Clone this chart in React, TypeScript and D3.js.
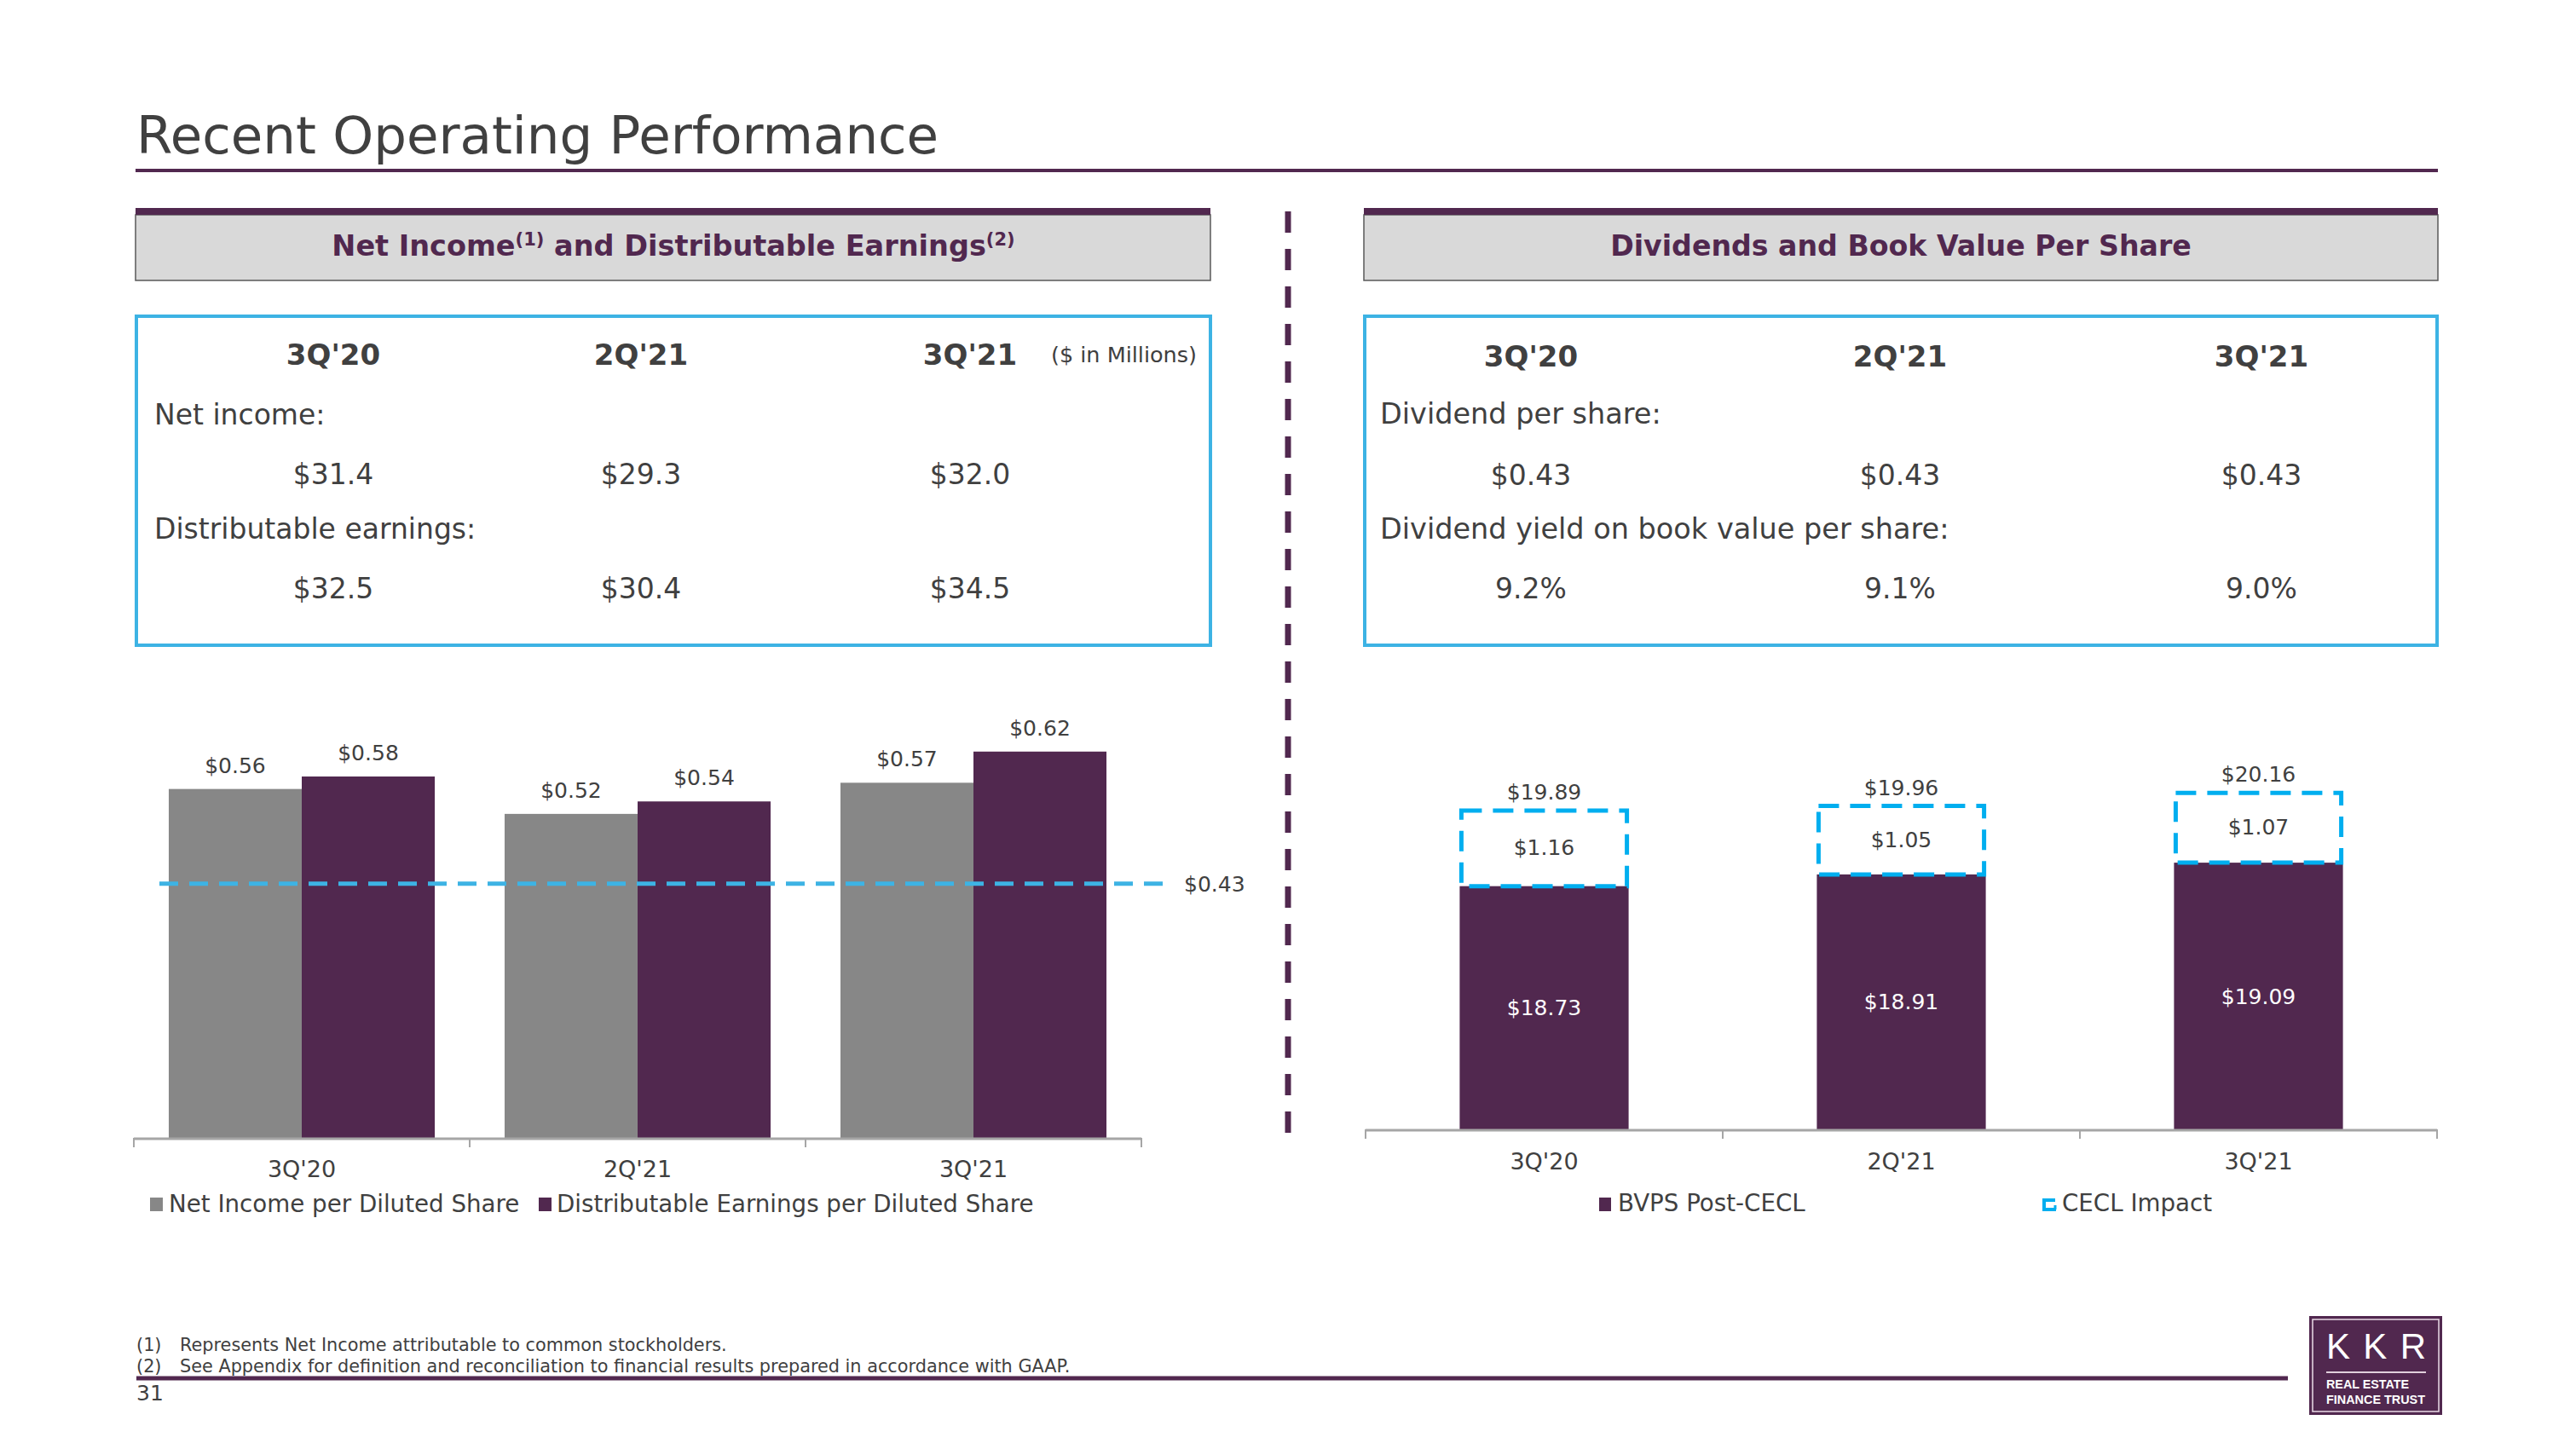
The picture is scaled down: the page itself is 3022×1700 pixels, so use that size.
import React from "react";
import * as d3 from "d3";

const quarters = ["3Q'20", "2Q'21", "3Q'21"];
const netIncomePerShare = [0.56, 0.52, 0.57];
const distEarningsPerShare = [0.58, 0.54, 0.62];
const dividendPerShare = 0.43;
const bvpsPostCecl = [18.73, 18.91, 19.09];
const ceclImpact = [1.16, 1.05, 1.07];
const netIncomeM = ["$31.4", "$29.3", "$32.0"];
const distEarningsM = ["$32.5", "$30.4", "$34.5"];
const dividendsTxt = ["$0.43", "$0.43", "$0.43"];
const yieldsTxt = ["9.2%", "9.1%", "9.0%"];
const leftSeries = ["Net Income per Diluted Share", "Distributable Earnings per Diluted Share"];
const rightSeries = ["BVPS Post-CECL", "CECL Impact"];
const footnotes = [
  "Represents Net Income attributable to common stockholders.",
  "See Appendix for definition and reconciliation to financial results prepared in accordance with GAAP.",
];

const PURPLE = "#51284f";
const GREY_BAR = "#878787";
const BLUE = "#3db3e4";
const BLUE_DASH = "#00aeef";
const TXT = "#404040";
const FONT = "'DejaVu Sans', Verdana, sans-serif";

export default function App() {
  const lx = d3.scaleBand<string>().domain(quarters).range([157, 1339]).paddingInner(0.208).paddingOuter(0.104);
  const lxi = d3.scaleBand<string>().domain(["ni", "de"]).range([0, lx.bandwidth()]);
  const lBase = 1335;
  const ly = d3.scaleLinear().domain([0, 0.7]).range([lBase, lBase - 0.7 * 731]);
  const lyLine = d3.scaleLinear().domain([0, 0.738]).range([lBase, lBase - 0.7 * 731]);
  const lStep = lx.step();
  const lTicks = quarters.map((q) => (lx(q) as number) - (lStep * 0.208) / 2).concat([1339]);

  const rx = d3.scaleBand<string>().domain(quarters).range([1602, 2859]).paddingInner(0.527).paddingOuter(0.2635);
  const rBase = 1325;
  const ry = d3.scaleLinear().domain([15, 21]).range([rBase, rBase - 6 * 76.5]);
  const rStep = rx.step();
  const rTicks = quarters.map((q) => (rx(q) as number) - (rStep * 0.527) / 2).concat([2859]);

  const fmt = (v: number) => "$" + v.toFixed(2);

  const leftCols = [391, 752, 1138];
  const rightCols = [1796, 2229, 2653];

  const headerBox = (x: number, w: number) => (
    <g>
      <rect x={x} y={252} width={w} height={77} fill="#d9d9d9" stroke="#595959" strokeWidth={1.5} />
      <rect x={x} y={244} width={w} height={8} fill={PURPLE} />
    </g>
  );

  return (
    <svg width={3022} height={1700} style={{ position: "absolute", left: 0, top: 0, background: "#fff" }} fontFamily={FONT}>
      <rect x={0} y={0} width={3022} height={1700} fill="#fff" />
      <text x={160} y={180} fontSize={61} fill={TXT}>Recent Operating Performance</text>
      <line x1={159} x2={2860} y1={200} y2={200} stroke={PURPLE} strokeWidth={4} />

      {headerBox(159, 1261)}
      {headerBox(1600, 1260)}
      <text x={790} y={300} textAnchor="middle" fontSize={33.5} fontWeight="bold" fill={PURPLE}>
        Net Income<tspan fontSize={21} dy={-12}>(1)</tspan>
        <tspan dy={12}> and Distributable Earnings</tspan>
        <tspan fontSize={21} dy={-12}>(2)</tspan>
      </text>
      <text x={2230} y={300} textAnchor="middle" fontSize={33.2} fontWeight="bold" fill={PURPLE}>
        Dividends and Book Value Per Share
      </text>

      <rect x={160} y={371} width={1260} height={386} fill="none" stroke={BLUE} strokeWidth={4} />
      <rect x={1601} y={371} width={1258} height={386} fill="none" stroke={BLUE} strokeWidth={4} />
      {quarters.map((q, i) => (
        <g key={"lt" + q}>
          <text x={leftCols[i]} y={428} textAnchor="middle" fontSize={34} fontWeight="bold" fill={TXT}>{q}</text>
          <text x={leftCols[i]} y={568} textAnchor="middle" fontSize={33} fill={TXT}>{netIncomeM[i]}</text>
          <text x={leftCols[i]} y={702} textAnchor="middle" fontSize={33} fill={TXT}>{distEarningsM[i]}</text>
          <text x={rightCols[i]} y={430} textAnchor="middle" fontSize={34} fontWeight="bold" fill={TXT}>{q}</text>
          <text x={rightCols[i]} y={569} textAnchor="middle" fontSize={33} fill={TXT}>{dividendsTxt[i]}</text>
          <text x={rightCols[i]} y={702} textAnchor="middle" fontSize={33} fill={TXT}>{yieldsTxt[i]}</text>
        </g>
      ))}
      <text x={1233} y={425} fontSize={25.5} fill={TXT}>($ in Millions)</text>
      <text x={181} y={498} fontSize={33} fill={TXT}>Net income:</text>
      <text x={181} y={632} fontSize={33} fill={TXT}>Distributable earnings:</text>
      <text x={1619} y={497} fontSize={33.5} fill={TXT}>Dividend per share:</text>
      <text x={1619} y={632} fontSize={33.5} fill={TXT}>Dividend yield on book value per share:</text>

      <line x1={1511} x2={1511} y1={248} y2={1336} stroke={PURPLE} strokeWidth={7} strokeDasharray="25 19" />

      {quarters.map((q, i) => {
        const x0 = lx(q) as number;
        const vals = [netIncomePerShare[i], distEarningsPerShare[i]];
        return (
          <g key={"lb" + q}>
            {["ni", "de"].map((s, j) => {
              const bx = x0 + (lxi(s) as number);
              const y = ly(vals[j]);
              return (
                <g key={s}>
                  <rect x={bx} y={y} width={lxi.bandwidth()} height={lBase - y} fill={j === 0 ? GREY_BAR : PURPLE} />
                  <text x={bx + lxi.bandwidth() / 2} y={y - 19} textAnchor="middle" fontSize={25} fill={TXT}>{fmt(vals[j])}</text>
                </g>
              );
            })}
            <text x={x0 + lx.bandwidth() / 2} y={1381} textAnchor="middle" fontSize={27} fill={TXT}>{q}</text>
          </g>
        );
      })}
      <line x1={157} x2={1339} y1={lBase + 1} y2={lBase + 1} stroke="#a6a6a6" strokeWidth={3} />
      {lTicks.map((t, i) => (
        <line key={"lt" + i} x1={t} x2={t} y1={lBase} y2={lBase + 11} stroke="#a6a6a6" strokeWidth={2} />
      ))}
      <line x1={187} x2={1366} y1={lyLine(dividendPerShare)} y2={lyLine(dividendPerShare)} stroke={BLUE} strokeWidth={5} strokeDasharray="22 13" />
      <text x={1389} y={lyLine(dividendPerShare) + 9} fontSize={25} fill={TXT}>{fmt(dividendPerShare)}</text>
      <rect x={176} y={1405} width={15} height={16} fill={GREY_BAR} />
      <text x={198} y={1422} fontSize={27.7} fill={TXT}>{leftSeries[0]}</text>
      <rect x={632} y={1405} width={15} height={16} fill={PURPLE} />
      <text x={653} y={1422} fontSize={27.7} fill={TXT}>{leftSeries[1]}</text>

      {quarters.map((q, i) => {
        const bx = rx(q) as number;
        const w = rx.bandwidth();
        const yb = ry(bvpsPostCecl[i]);
        const total = bvpsPostCecl[i] + ceclImpact[i];
        const yt = ry(total);
        return (
          <g key={"rb" + q}>
            <rect x={bx} y={yb} width={w} height={rBase - yb} fill={PURPLE} />
            <rect x={bx + 2} y={yt} width={w - 4} height={yb - yt} fill="none" stroke={BLUE_DASH} strokeWidth={5} strokeDasharray="24 13" />
            <text x={bx + w / 2} y={(yb + rBase) / 2 + 9} textAnchor="middle" fontSize={25} fill="#fff">{fmt(bvpsPostCecl[i])}</text>
            <text x={bx + w / 2} y={(yt + yb) / 2 + 8} textAnchor="middle" fontSize={25} fill={TXT}>{fmt(ceclImpact[i])}</text>
            <text x={bx + w / 2} y={yt - 13} textAnchor="middle" fontSize={25} fill={TXT}>{fmt(total)}</text>
            <text x={bx + w / 2} y={1372} textAnchor="middle" fontSize={27} fill={TXT}>{q}</text>
          </g>
        );
      })}
      <line x1={1602} x2={2859} y1={rBase + 1} y2={rBase + 1} stroke="#a6a6a6" strokeWidth={3} />
      {rTicks.map((t, i) => (
        <line key={"rt" + i} x1={t} x2={t} y1={rBase} y2={rBase + 11} stroke="#a6a6a6" strokeWidth={2} />
      ))}
      <rect x={1876} y={1405} width={14} height={16} fill={PURPLE} />
      <text x={1898} y={1421} fontSize={27.7} fill={TXT}>{rightSeries[0]}</text>
      <path d="M2411,1408 H2398 V1419 H2412" fill="none" stroke={BLUE_DASH} strokeWidth={4} />
      <line x1={2411} x2={2411} y1={1414} y2={1419} stroke={BLUE_DASH} strokeWidth={3} />
      <text x={2419} y={1421} fontSize={27.7} fill={TXT}>{rightSeries[1]}</text>

      {footnotes.map((f, i) => (
        <g key={"fn" + i}>
          <text x={160} y={1585 + i * 25} fontSize={20.8} fill={TXT}>({i + 1})</text>
          <text x={211} y={1585 + i * 25} fontSize={20.8} fill={TXT}>{f}</text>
        </g>
      ))}
      <line x1={160} x2={2684} y1={1617} y2={1617} stroke={PURPLE} strokeWidth={5} />
      <text x={160} y={1643} fontSize={25} fill={TXT}>31</text>

      <rect x={2709} y={1544} width={156} height={116} fill={PURPLE} />
      <rect x={2713} y={1548} width={148} height={108} fill="none" stroke="#eadbe7" strokeWidth={1.5} />
      <text x={2729} y={1594} fontSize={42} fill="#fff" fontFamily="'Liberation Sans', Arial, sans-serif" textLength={117} lengthAdjust="spacing">KKR</text>
      <line x1={2729} x2={2846} y1={1610} y2={1610} stroke="#e0cfdc" strokeWidth={2} />
      <text x={2729} y={1629} fontSize={14} fontWeight="bold" fill="#fff" fontFamily="'Liberation Sans', Arial, sans-serif" textLength={97} lengthAdjust="spacingAndGlyphs">REAL ESTATE</text>
      <text x={2729} y={1647} fontSize={14} fontWeight="bold" fill="#fff" fontFamily="'Liberation Sans', Arial, sans-serif" textLength={116} lengthAdjust="spacingAndGlyphs">FINANCE TRUST</text>
    </svg>
  );
}
